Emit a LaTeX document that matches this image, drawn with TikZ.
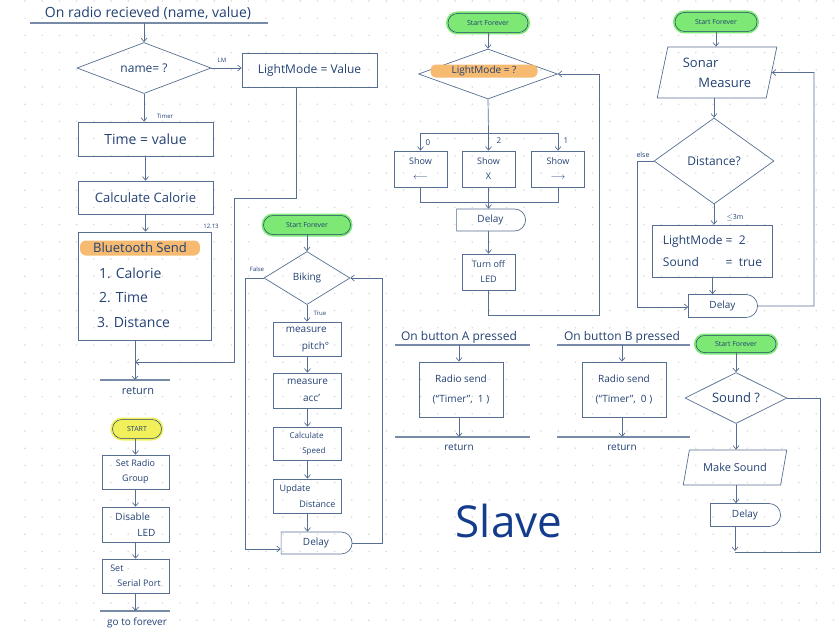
\documentclass[tikz,border=0pt]{standalone}
\usepackage{fontspec}
\setmainfont{Open Sans}
\usepackage{tikz}
\usetikzlibrary{shapes.geometric,shapes.misc,arrows.meta}
\definecolor{inkblue}{RGB}{35,65,115}
\definecolor{wireblue}{RGB}{85,110,145}
\definecolor{dotgray}{RGB}{212,212,212}
\definecolor{glowgreen}{RGB}{125,232,115}
\definecolor{glowyellow}{RGB}{242,240,90}
\definecolor{markorange}{RGB}{246,186,112}
\definecolor{slaveblue}{RGB}{20,60,140}
\newcommand{\fsz}[2]{\fontsize{#1}{#2}\selectfont}

\tikzset{
  wire/.style={draw=wireblue, line width=0.7pt},
  arr/.style={wire, -{Straight Barb[length=3.5pt,width=6pt]}},
  barline/.style={draw=wireblue!80, line width=1.3pt},
  procbox/.style={draw=wireblue, line width=0.7pt, text=inkblue, align=center, inner sep=0pt, font=\fsz{10}{17}},
  decision/.style={diamond, draw=wireblue, line width=0.7pt, text=inkblue, inner sep=0pt, aspect=2},
  delaybox/.style={rounded rectangle, rounded rectangle left arc=none, draw=wireblue, line width=0.7pt, text=inkblue, inner sep=0pt, font=\fsz{10}{12}},
  iobox/.style={trapezium, trapezium stretches=true, draw=wireblue, line width=0.7pt, text=inkblue, inner sep=0pt, align=left},
  pill/.style={rounded rectangle, draw=inkblue, line width=0.5pt, fill=#1, preaction={draw=#1, line width=4pt}, text=inkblue, inner sep=0pt, font=\fsz{7}{8}},
  note/.style={text=inkblue, inner sep=0pt, font=\fsz{6}{7}},
  hand/.style={text=inkblue, inner sep=0pt},
}

\begin{document}
\begin{tikzpicture}[x=1pt, y=-1pt]
\useasboundingbox (0,0) rectangle (834,634);
% dotted paper
\foreach \gx in {0,...,47}
  \foreach \gy in {0,...,36}
    \fill[dotgray] ({25+17.2*\gx},{1+17.2*\gy}) circle (0.8);

% On radio recieved
\node[hand, font=\fsz{14}{16}] (rxtitle) at (148,13) {On radio recieved (name, value)};
\coordinate (rxbarL) at (30,23);
\coordinate (rxbarR) at (268,23);
\coordinate (rxbar) at (144,23);
\draw[barline] (rxbarL) -- (rxbarR);
\node[decision, minimum width=134, minimum height=51, font=\fsz{12}{14}] (namedec) at (144,68) {name= ?};
\draw[arr] (rxbar) -- (namedec.north);
\node[procbox, minimum width=135, minimum height=34, font=\fsz{12}{14}] (lmset) at (309.5,70) {LightMode = Value};
\draw[arr] (namedec.east) -- (namedec.east -| lmset.west);
\node[note] at (222,60) {LM};
\node[procbox, minimum width=135, minimum height=34, font=\fsz{14}{16}] (timeset) at (145.5,139) {Time = value};
\draw[arr] (namedec.south) -- (namedec.south |- timeset.north);
\node[note] at (165,116) {Timer};
\node[procbox, minimum width=135, minimum height=33, font=\fsz{13}{15}] (calcal) at (145.5,197.5) {Calculate Calorie};
\draw[arr] (timeset.south) -- (calcal.north);
\node[procbox, minimum width=133, minimum height=108] (btsend) at (144.5,286) {};
\draw[arr] (calcal.south) -- (calcal.south |- btsend.north);
\node[note] at (211,226) {12.13};
\node[hand, fill=markorange, rounded corners=6pt, minimum width=120, minimum height=15, font=\fsz{13}{15}] (bthead) at (140,248) {Bluetooth Send};
\node[hand, anchor=west, font=\fsz{14}{16}] (btone) at (99,273) {1. Calorie};
\node[hand, anchor=west, font=\fsz{14}{16}] (bttwo) at (99,297) {2. Time};
\node[hand, anchor=west, font=\fsz{14}{16}] (btthree) at (97,322) {3. Distance};
% return
\coordinate (rxret) at (135,380);
\coordinate (rxretL) at (100,380);
\coordinate (rxretR) at (170,380);
\draw[barline] (rxretL) -- (rxretR);
\draw[arr] (btsend.south -| rxret) -- (rxret);
\node[hand, font=\fsz{11}{13}] (rxreturn) at (138,391) {return};
\coordinate (lmdrop) at (296,198);
\coordinate (lmbend) at (234,198);
\coordinate (lmjoin) at (135,362);
\draw[arr] (lmset.south -| lmdrop) -- (lmdrop) -- (lmbend) |- (lmjoin);

% START
\node[pill=glowyellow, minimum width=49, minimum height=19] (startnode) at (137,429) {START};
\node[procbox, minimum width=67, minimum height=34, font=\fsz{9}{15}] (setradio) at (135.5,472) {Set Radio\\Group};
\node[procbox, minimum width=67, minimum height=35, align=left, font=\fsz{10}{16}] (disled) at (135.5,524.5) {Disable\\\hspace*{2.2em}LED};
\node[procbox, minimum width=67, minimum height=34, align=left, font=\fsz{9}{15}] (setserial) at (135.5,576) {Set\\\hspace*{0.8em}Serial Port};
\draw[arr] (startnode.south -| setradio) -- (setradio.north);
\draw[arr] (setradio.south) -- (disled.north);
\draw[arr] (disled.south) -- (setserial.north);
\coordinate (goend) at (135.5,611);
\coordinate (goendL) at (100,611);
\coordinate (goendR) at (170,611);
\draw[barline] (goendL) -- (goendR);
\draw[arr] (setserial.south) -- (goend);
\node[hand, font=\fsz{10}{12}] (gotext) at (137,623) {go to forever};

% Biking forever
\node[pill=glowgreen, minimum width=87, minimum height=19] (bikestart) at (307,225) {Start Forever};
\node[decision, minimum width=86, minimum height=53, font=\fsz{10}{12}] (bikedec) at (307,278) {Biking};
\draw[arr] (bikestart.south) -- (bikedec.north);
\node[note] at (257,269) {False};
\node[note] at (320,313) {True};
\node[procbox, minimum width=68, minimum height=34, align=left] (pitch) at (307.5,339) {measure\\\hspace*{1.6em}pitch°};
\node[procbox, minimum width=68, minimum height=35, align=left] (acc) at (307.5,390.5) {measure\\\hspace*{1.6em}acc'};
\node[procbox, minimum width=68, minimum height=33, align=left, font=\fsz{8}{15}] (speed) at (307.5,443.5) {Calculate\\\hspace*{1.6em}Speed};
\node[procbox, minimum width=68, minimum height=34, align=left, font=\fsz{9}{16}] (update) at (307.5,496) {Update\\\hspace*{2.2em}Distance};
\node[delaybox, minimum width=71, minimum height=22] (bikedelay) at (316,543) {Delay};
\draw[arr] (bikedec.south) -- (bikedec.south |- pitch.north);
\draw[arr] (pitch.south) -- (acc.north);
\draw[arr] (acc.south) -- (speed.north);
\draw[arr] (speed.south) -- (update.north);
\draw[arr] (update.south) -- (update.south |- bikedelay.north);
\coordinate (bikeleft) at (245,549);
\coordinate (bikeright) at (382,278);
\draw[arr] (bikedec.west) -| (bikeleft) -- (bikeleft -| bikedelay.west);
\draw[arr] (bikedelay.east) -| (bikeright) -- (bikedec.east);

% LightMode forever
\node[pill=glowgreen, minimum width=80, minimum height=19] (lmstart) at (488,23) {Start Forever};
\node[decision, minimum width=139, minimum height=50] (lmdec) at (488,74) {};
\draw[arr] (lmstart.south) -- (lmdec.north);
\node[hand, fill=markorange, rounded corners=5pt, minimum width=107, minimum height=13, font=\fsz{10}{12}] (lmq) at (484,71) {LightMode = ?};
\node[procbox, minimum width=53, minimum height=36, font=\fsz{9}{15}] (showleft) at (420.5,169) {Show\\$\longleftarrow$};
\node[procbox, minimum width=53, minimum height=36, font=\fsz{9}{15}] (showx) at (488.5,169) {Show\\X};
\node[procbox, minimum width=53, minimum height=36, font=\fsz{9}{15}] (showright) at (558,169) {Show\\$\longrightarrow$};
\coordinate (lmsplit) at (488.5,133);
\coordinate (lmmerge) at (488.5,202);
\draw[wire] (lmdec.south) -- (lmsplit);
\foreach \b in {showleft,showx,showright}
  \draw[arr] (lmsplit) -| (\b.north);
\foreach \b in {showleft,showx,showright}
  \draw[wire] (\b.south) |- (lmmerge);
\node[note, font=\fsz{8}{9}] at (428,143) {0};
\node[note, font=\fsz{8}{9}] at (499,141) {2};
\node[note, font=\fsz{8}{9}] at (566,141) {1};
\node[delaybox, minimum width=69, minimum height=22] (lmdelay) at (490.5,220) {Delay};
\draw[arr] (lmmerge) -- (lmmerge |- lmdelay.north);
\node[procbox, minimum width=53, minimum height=36, font=\fsz{9}{15}] (ledoff) at (488.5,272) {Turn off\\LED};
\draw[arr] (lmdelay.south -| ledoff) -- (ledoff.north);
\coordinate (lmloop) at (599,315);
\draw[arr] (ledoff.south) |- (lmloop) |- (lmdec.east);

% Sonar forever
\node[pill=glowgreen, minimum width=82, minimum height=19] (sonstart) at (716,22) {Start Forever};
\node[iobox, trapezium left angle=76, trapezium right angle=104, minimum width=120, minimum height=51, font=\fsz{13}{20}] (sonar) at (717,72.5) {Sonar\\\hspace*{1.2em}Measure};
\node[decision, minimum width=120, minimum height=86, font=\fsz{12}{14}] (distdec) at (714,161) {Distance?};
\draw[arr] (sonstart.south) -- (sonstart.south |- sonar.north);
\draw[arr] (distdec.north |- sonar.south) -- (distdec.north);
\node[note, font=\fsz{7}{8}] at (643,155) {else};
\node[note, font=\fsz{7}{8}] at (735,218) {$\leq$3m};
\node[procbox, minimum width=120, minimum height=52, font=\fsz{12}{22}] (sonset) at (712.5,251) {\begin{tabular}{@{}l@{\ =\ \ }l@{}}LightMode & 2\\Sound & true\end{tabular}};
\draw[arr] (distdec.south) -- (distdec.south |- sonset.north);
\node[delaybox, minimum width=69, minimum height=23] (sondelay) at (722.5,306) {Delay};
\draw[arr] (sonset.south) -- (sonset.south |- sondelay.north);
\coordinate (sonleft) at (637,307);
\coordinate (sonright) at (814,72.5);
\draw[arr] (distdec.west) -| (sonleft) -- (sonleft -| sondelay.west);
\draw[arr] (sondelay.east) -| (sonright) -- (sonar.east);

% Button A
\node[hand, font=\fsz{12}{14}] (btnatitle) at (459,337) {On button A pressed};
\coordinate (btnabar) at (459,345);
\coordinate (btnabarL) at (395,345);
\coordinate (btnabarR) at (530,345);
\draw[barline] (btnabarL) -- (btnabarR);
\node[procbox, minimum width=84, minimum height=55, font=\fsz{10}{20}] (btnasend) at (461,389.5) {Radio send\\(``Timer'', \ 1 )};
\draw[arr] (btnabar) -- (btnabar |- btnasend.north);
\coordinate (btnaret) at (459,437);
\coordinate (btnaretL) at (395,437);
\coordinate (btnaretR) at (530,437);
\draw[barline] (btnaretL) -- (btnaretR);
\draw[arr] (btnaret |- btnasend.south) -- (btnaret);
\node[hand, font=\fsz{10}{12}] (btnareturn) at (459,447) {return};

% Button B
\node[hand, font=\fsz{12}{14}] (btnbtitle) at (622,337) {On button B pressed};
\coordinate (btnbbar) at (622,345);
\coordinate (btnbbarL) at (557,345);
\coordinate (btnbbarR) at (690,345);
\draw[barline] (btnbbarL) -- (btnbbarR);
\node[procbox, minimum width=84, minimum height=55, font=\fsz{10}{20}] (btnbsend) at (624,389.5) {Radio send\\(``Timer'', \ 0 )};
\draw[arr] (btnbbar) -- (btnbbar |- btnbsend.north);
\coordinate (btnbret) at (622,437);
\coordinate (btnbretL) at (557,437);
\coordinate (btnbretR) at (690,437);
\draw[barline] (btnbretL) -- (btnbretR);
\draw[arr] (btnbret |- btnbsend.south) -- (btnbret);
\node[hand, font=\fsz{10}{12}] (btnbreturn) at (622,447) {return};

% Sound forever
\node[pill=glowgreen, minimum width=80, minimum height=17] (sndstart) at (736,344) {Start Forever};
\node[decision, minimum width=102, minimum height=51, font=\fsz{13}{15}] (snddec) at (736,398) {Sound ?};
\draw[arr] (sndstart.south) -- (snddec.north);
\node[iobox, trapezium left angle=63, trapezium right angle=117, minimum width=104, minimum height=35, font=\fsz{11}{13}] (makesnd) at (735,467.5) {Make Sound};
\draw[arr] (snddec.south) -- (snddec.south |- makesnd.north);
\node[delaybox, minimum width=70, minimum height=23] (snddelay) at (745,515) {Delay};
\draw[arr] (makesnd.south -| snddec) -- (snddec |- snddelay.north);
\coordinate (sndend) at (735,551);
\coordinate (sndright) at (820,552);
\draw[arr] (snddelay.south -| sndend) -- (sndend);
\draw[wire] (snddec.east) -| (sndright) -- (sndright -| sndend);

% Slave tag
\node[text=slaveblue, inner sep=0pt, font=\fsz{44}{48}] (slavetag) at (509,521) {Slave};
\end{tikzpicture}
\end{document}
